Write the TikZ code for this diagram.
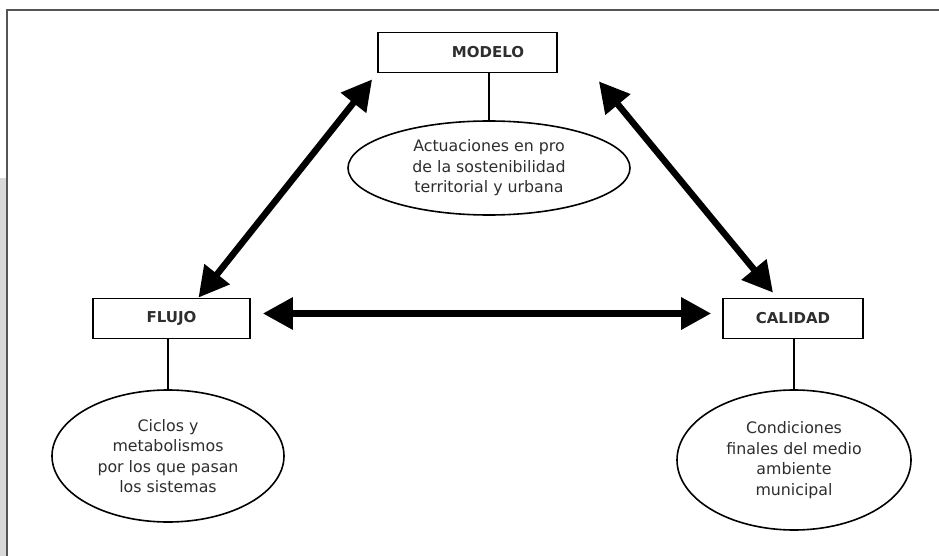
\documentclass[tikz,border=0pt]{standalone}
\usepackage{fontspec}
\setmainfont{DejaVu Sans}
\usetikzlibrary{arrows.meta,calc,shapes.geometric}
\definecolor{txt}{HTML}{2E2E2E}
\definecolor{framec}{HTML}{555555}
\definecolor{stripc}{HTML}{D8D8D8}
\begin{document}
\begin{tikzpicture}[x=1pt,y=-1pt,
  box/.style={draw=black,line width=1.8pt,fill=white,minimum width=#1,minimum height=40pt,inner sep=0pt,
    font=\fontsize{15}{17}\selectfont\bfseries,text=txt},
  oval/.style={draw=black,line width=1.6pt,ellipse,inner sep=0pt,align=center,
    font=\fontsize{15.8}{20.5}\selectfont,text=txt},
  link/.style={line width=1.6pt},
  bigarrow/.style={line width=6.5pt,{Triangle[length=30pt,width=31pt]}-{Triangle[length=30pt,width=31pt]}}]
\useasboundingbox (0,0) rectangle (939,556);
\fill[white] (0,0) rectangle (939,556);
\fill[stripc] (0,178) rectangle (6,556);
\draw[framec,line width=2pt] (7,560) -- (7,10.5) -- (945,10.5);
% boxes
\node[box=179pt] (modelo) at (467.5,52.5) {\hspace*{41pt}MODELO};
\node[box=157pt] (flujo) at (171.5,318.5) {FLUJO};
\node[box=140pt] (calidad) at (793,318.5) {CALIDAD};
% ellipses
\node[oval,minimum width=282pt,minimum height=94pt] (e1) at (489,168) {Actuaciones en pro\\de la sostenibilidad\\territorial y urbana};
\node[oval,minimum width=232pt,minimum height=132pt] (e2) at (168,456) {Ciclos y\\metabolismos\\por los que pasan\\los sistemas};
\node[oval,minimum width=234pt,minimum height=140pt] (e3) at (794,460) {Condiciones\\finales del medio\\ambiente\\municipal};
% links
\draw[link] (modelo.south -| e1.north) -- (e1.north);
\draw[link] (flujo.south -| e2.north) -- (e2.north);
\draw[link] (calidad.south -| e3.north) -- (e3.north);
% arrows
\draw[bigarrow] ($(flujo.east)+(12,-5)$) -- ($(calidad.west)+(-11,-5)$);
\draw[bigarrow] ($(flujo.north)+(27,0)$) -- ($(modelo.south west)+(-5,6)$);
\draw[bigarrow] ($(calidad.north)+(-20,-5)$) -- ($(modelo.south east)+(41,8)$);
\end{tikzpicture}
\end{document}
